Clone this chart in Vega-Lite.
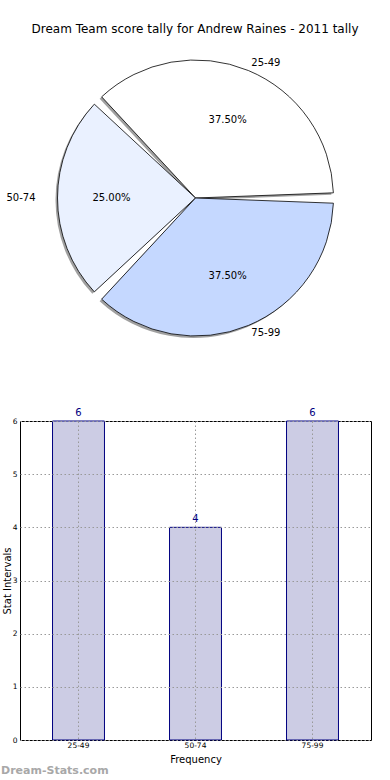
{
  "$schema": "https://vega.github.io/schema/vega-lite/v6.json",
  "padding": {"left": 0, "top": 23, "right": 0, "bottom": 0},
  "background": "white",
  "config": {"font": "DejaVu Sans", "view": {"stroke": null}},
  "title": {"text": "Dream Team score tally for Andrew Raines - 2011 tally", "fontSize": 12, "fontWeight": "normal", "font": "DejaVu Sans", "color": "black", "anchor": "middle", "dx": 9, "offset": 9},
  "datasets": {
    "tally": [
      {"cat": "25-49", "count": 6, "pct": "37.50%"},
      {"cat": "50-74", "count": 4, "pct": "25.00%"},
      {"cat": "75-99", "count": 6, "pct": "37.50%"}
    ]
  },
  "vconcat": [
    {
      "width": 351,
      "height": 300,
      "data": {"name": "tally"},
      "encoding": {
        "theta": {"field": "count", "type": "quantitative", "stack": true, "scale": {"range": [1.5708, 7.854]}},
        "order": {"field": "cat", "type": "ordinal", "sort": "descending"}
      },
      "layer": [
        {
          "mark": {"type": "arc", "radius": 138, "padAngle": 0.075, "fill": "#777777", "opacity": 0.7, "xOffset": -2, "yOffset": 2}
        },
        {
          "mark": {"type": "arc", "radius": 138, "padAngle": 0.075, "stroke": "black", "strokeWidth": 0.8},
          "encoding": {
            "color": {"field": "cat", "type": "nominal", "legend": null, "scale": {"domain": ["25-49", "50-74", "75-99"], "range": ["#FFFFFF", "#EAF1FF", "#C5D8FF"]}}
          }
        },
        {
          "mark": {"type": "text", "radius": 84, "fontSize": 10, "color": "black", "font": "DejaVu Sans"},
          "encoding": {"text": {"field": "pct"}}
        },
        {
          "mark": {"type": "text", "radius": 146, "fontSize": 10, "color": "black", "align": "left", "baseline": "middle", "font": "DejaVu Sans"},
          "encoding": {"text": {"condition": {"test": "datum.cat !== '50-74'", "field": "cat"}, "value": ""}}
        },
        {
          "mark": {"type": "text", "radius": 160, "fontSize": 10, "color": "black", "align": "right", "baseline": "middle", "font": "DejaVu Sans"},
          "encoding": {"text": {"condition": {"test": "datum.cat === '50-74'", "field": "cat"}, "value": ""}}
        }
      ]
    },
    {
      "width": 351,
      "height": 319,
      "data": {"name": "tally"},
      "view": {"stroke": "black", "strokeWidth": 1},
      "title": {"text": "Dream-Stats.com", "orient": "bottom", "anchor": "start", "frame": "group", "dx": -19, "offset": 0, "fontSize": 11, "fontWeight": "bold", "color": "#A8A8A8", "font": "DejaVu Sans"},
      "encoding": {
        "x": {
          "field": "cat", "type": "nominal", "sort": null,
          "scale": {"paddingInner": 0.556, "paddingOuter": 0.278},
          "axis": {"title": "Frequency", "titleFontSize": 10, "titleFontWeight": "normal", "titleColor": "black", "titlePadding": 6, "labelAngle": 0, "labelFontSize": 7.5, "labelColor": "black", "labelPadding": 1, "ticks": false, "domain": false, "grid": true, "gridColor": "#999999", "gridDash": [1.5, 2.5], "zindex": 1}
        },
        "y": {
          "field": "count", "type": "quantitative",
          "scale": {"domain": [0, 6], "nice": false},
          "axis": {"title": "Stat Intervals", "titleFontSize": 10, "titleFontWeight": "normal", "titleColor": "black", "titlePadding": 0, "values": [0, 1, 2, 3, 4, 5, 6], "labelFontSize": 7.5, "labelColor": "black", "labelPadding": 3, "ticks": false, "domain": false, "grid": true, "gridColor": "#999999", "gridDash": [1.5, 2.5], "zindex": 1}
        }
      },
      "layer": [
        {"mark": {"type": "bar", "fill": "#CCCCE4", "stroke": "#000080", "strokeWidth": 1}},
        {"mark": {"type": "text", "dy": -3, "baseline": "bottom", "fontSize": 10, "color": "#000080", "font": "DejaVu Sans"}, "encoding": {"text": {"field": "count"}}}
      ]
    }
  ],
  "spacing": 73,
  "bounds": "flush"
}
